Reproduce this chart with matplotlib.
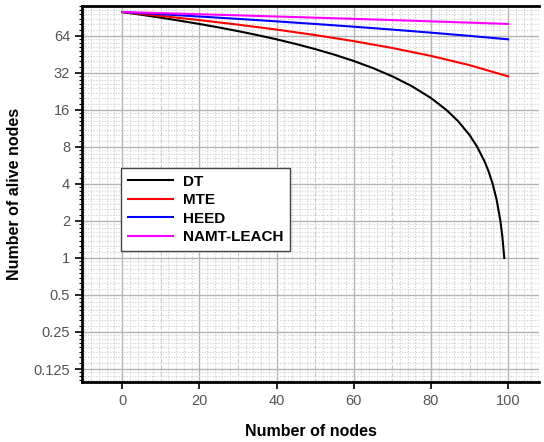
import numpy as np
import matplotlib.pyplot as plt
from matplotlib.ticker import FixedLocator, LogLocator, NullFormatter, MultipleLocator

plt.rcParams['font.family'] = ['Liberation Sans', 'DejaVu Sans']

# data
x_dt = [0, 5, 10, 15, 20, 25, 30, 35, 40, 45, 50, 55, 60, 65, 70, 75, 80,
        84, 87, 90, 92, 94, 95, 96, 97, 98, 98.5, 99]
dt = [100, 95, 90, 85, 80, 75, 70, 65, 60, 55, 50, 45, 40, 35, 30, 25, 20,
      16, 13, 10, 8, 6, 5, 4, 3, 2, 1.5, 1]

x_other = [0, 10, 20, 30, 40, 50, 60, 70, 80, 90, 100]
mte = [100, 93, 86, 79, 72, 65, 58, 51, 44, 37, 30]
heed = [100, 96, 92, 88, 84, 80, 76, 72, 68, 64, 60]
namt = [100, 98, 96, 94, 92, 90, 88, 86, 84, 82, 80]

y_ticks = [0.125, 0.25, 0.5, 1, 2, 4, 8, 16, 32, 64]
y_labels = ['0.125', '0.25', '0.5', '1', '2', '4', '8', '16', '32', '64']
x_ticks = [0, 20, 40, 60, 80, 100]

fig = plt.figure(figsize=(5.44, 4.42), dpi=100)
ax = fig.add_axes([82 / 544, 60 / 442, 457 / 544, 376 / 442])

ax.plot(x_dt, dt, color='black', lw=1.5, label='DT')
ax.plot(x_other, mte, color='red', lw=1.5, label='MTE')
ax.plot(x_other, heed, color='blue', lw=1.5, label='HEED')
ax.plot(x_other, namt, color='magenta', lw=1.5, label='NAMT-LEACH')

ax.set_yscale('log', base=2)
ax.set_ylim(0.098, 112)
ax.set_xlim(-10.4, 108)

ax.yaxis.set_major_locator(FixedLocator(y_ticks))
ax.set_yticklabels(y_labels)
ax.yaxis.set_minor_locator(LogLocator(base=2, subs=[1 + k / 8 for k in range(1, 8)], numticks=50))
ax.yaxis.set_minor_formatter(NullFormatter())
ax.set_xticks(x_ticks)
ax.xaxis.set_minor_locator(MultipleLocator(2))

ax.grid(which='major', color='#b4b4b4', lw=1.0)
ax.grid(which='minor', color='#cccccc', lw=0.8, ls=(0, (1, 1.5)))
ax.set_axisbelow(True)

ax.tick_params(which='major', direction='out', length=5, width=1.2, labelsize=10.5, labelcolor='#555555')
ax.tick_params(which='minor', direction='out', length=2.5, width=0.8)
ax.tick_params(axis='x', which='minor', length=0)
# secondary ticks at 10s
for xv in [10, 30, 50, 70, 90]:
    ax.axvline(xv, color='#c8c8c8', lw=0.8, ls=(0, (3, 3)), zorder=0)

for s in ['left', 'bottom', 'top']:
    ax.spines[s].set_linewidth(2)
ax.spines['right'].set_visible(False)

ax.set_xlabel('Number of nodes', fontsize=11.5, fontweight='bold', labelpad=12)
ax.set_ylabel('Number of alive nodes', fontsize=11.5, fontweight='bold', labelpad=8)

leg = ax.legend(loc='upper left', bbox_to_anchor=(113 / 544, 1 - 160 / 442),
                bbox_transform=fig.transFigure, fancybox=False, framealpha=1,
                edgecolor='#444444', prop={'weight': 'bold', 'size': 11},
                handlelength=3.0, handletextpad=0.6, borderpad=0.45, labelspacing=0.3)
leg.get_frame().set_linewidth(1.0)

fig.savefig('out.png', dpi=100)
